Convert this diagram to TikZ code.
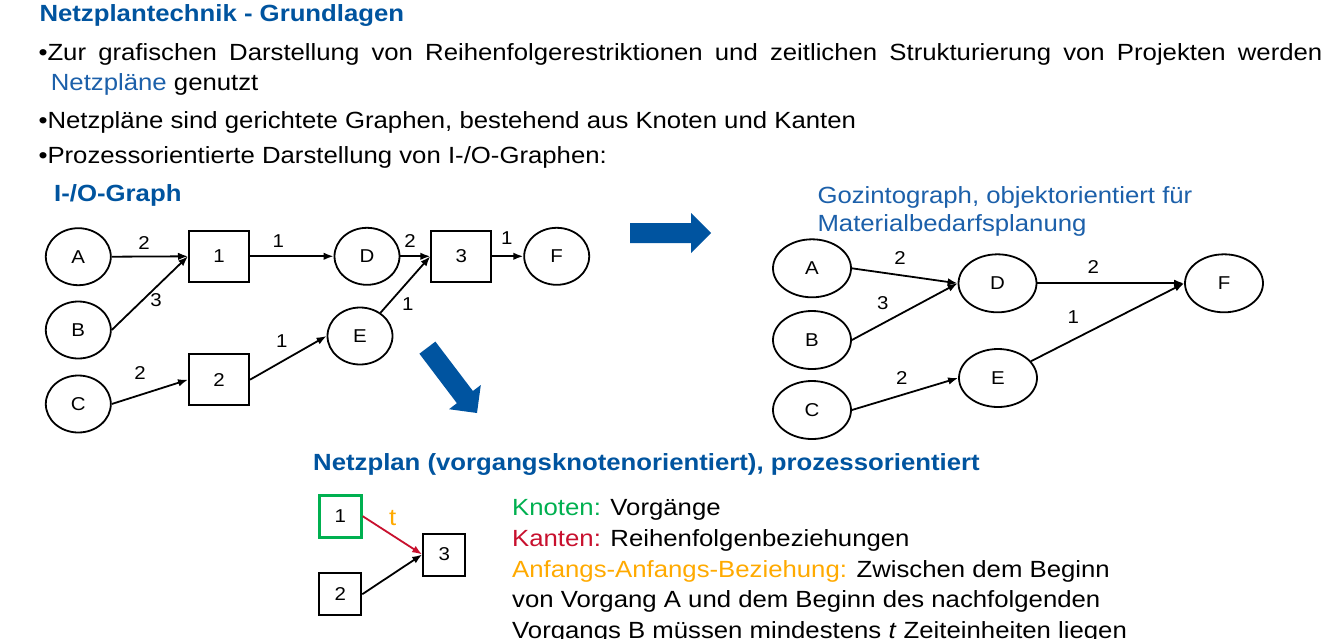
\documentclass[tikz,border=0pt]{standalone}
\usepackage{fontspec}
\setmainfont{Liberation Sans}[FakeStretch=1.1]
\usetikzlibrary{shapes.geometric,arrows.meta}
\definecolor{hblue}{RGB}{0,84,159}
\definecolor{tblue}{RGB}{28,96,170}
\definecolor{arrblue}{RGB}{0,84,160}
\definecolor{kgreen}{RGB}{0,176,80}
\definecolor{kred}{RGB}{200,16,46}
\definecolor{korange}{RGB}{255,170,0}
\newcommand{\bodyfs}{\fontsize{23.4}{28}\selectfont}
\newcommand{\lblfs}{\fontsize{18.6}{22}\selectfont}
\begin{document}
\begin{tikzpicture}[x=1pt,y=-1pt,
  txt/.style={anchor=base west,inner sep=0pt,font=\bodyfs},
  circ/.style={ellipse,draw,line width=1.8pt,minimum width=65pt,minimum height=57pt,inner sep=0pt,font=\lblfs},
  oval/.style={ellipse,draw,line width=1.8pt,minimum width=78pt,minimum height=58pt,inner sep=0pt,font=\lblfs},
  box/.style={rectangle,draw,line width=2pt,minimum width=60pt,minimum height=51pt,inner sep=0pt,font=\lblfs},
  sbox/.style={rectangle,draw,line width=2pt,minimum width=42pt,minimum height=42pt,inner sep=0pt,font=\lblfs},
  lbl/.style={inner sep=0pt,font=\lblfs},
  edge/.style={line width=1.8pt,-{Latex[length=10pt,width=7.5pt]}},
  bigarrow/.style={fill=arrblue,draw=none}]
\useasboundingbox (0,0) rectangle (1334,638);
\clip (0,0) rectangle (1334,638);
\fill[white] (0,0) rectangle (1334,638);

% ---------- top text
\node[txt,font=\bodyfs\bfseries,text=hblue] (title) at (39.3,21.7) {Netzplantechnik - Grundlagen};
\node[txt] (l1) at (38.3,60) {\makebox[1284pt][s]{•Zur grafischen Darstellung von Reihenfolgerestriktionen und zeitlichen Strukturierung von Projekten werden}};
\node[txt] (l2) at (50.7,90) {\textcolor{tblue}{Netzpläne} genutzt};
\node[txt] (l3) at (38.3,128.3) {•Netzpläne sind gerichtete Graphen, bestehend aus Knoten und Kanten};
\node[txt] (l4) at (38.3,163.3) {•Prozessorientierte Darstellung von I-/O-Graphen:};

% ---------- I/O graph
\node[txt,font=\bodyfs\bfseries,text=hblue] (iotitle) at (54,201.7) {I-/O-Graph};
\node[circ] (A) at (78.3,256.7) {A};
\node[circ] (B) at (78.3,330) {B};
\node[circ] (C) at (78.3,404) {C};
\node[box] (n1) at (219,256.3) {1};
\node[box] (n2) at (219,379.7) {2};
\node[circ] (D) at (367,256.3) {D};
\node[circ] (E) at (360,336) {E};
\node[box] (n3) at (461.3,256.3) {3};
\node[circ] (F) at (556.7,256.3) {F};
\draw[edge] (A.east) -- (n1.west);
\draw[edge] (B.east) -- (n1.west);
\draw[edge] (n1.east) -- (D.west);
\draw[edge] (D.east) -- (n3.west);
\draw[edge] (E) -- (n3.west);
\draw[edge] (n3.east) -- (F.west);
\draw[edge] (C.east) -- (n2.west);
\draw[edge] (n2.east) -- (E.west);
\node[lbl] (la1) at (144,243.3) {2};
\node[lbl] (la2) at (156,300) {3};
\node[lbl] (la3) at (278.3,240.7) {1};
\node[lbl] (la4) at (410,240.7) {2};
\node[lbl] (la5) at (407.7,304) {1};
\node[lbl] (la6) at (506.7,238.3) {1};
\node[lbl] (la7) at (140,373.3) {2};
\node[lbl] (la8) at (281.7,340.7) {1};

% ---------- big arrows
\fill[bigarrow] (630,223) -- (691,223) -- (691,213) -- (711,233) -- (691,253) -- (691,243) -- (630,243) -- cycle;
\fill[bigarrow] (435.4,341.6) -- (472.9,391.0) -- (480.8,385) -- (477,413) -- (449,409.2) -- (456.9,403.2) -- (419.4,353.7) -- cycle;

% ---------- Gozintograph
\node[txt,text=tblue] (gt1) at (817.3,203.3) {Gozintograph, objektorientiert für};
\node[txt,text=tblue] (gt2) at (817.3,231.5) {Materialbedarfsplanung};
\node[oval] (A2) at (812,268.3) {A};
\node[oval] (B2) at (812,340) {B};
\node[oval] (C2) at (812,410) {C};
\node[oval] (D2) at (997.5,283.3) {D};
\node[oval] (E2) at (998,378) {E};
\node[oval] (F2) at (1224,283.3) {F};
\draw[edge] (A2.east) -- (D2.west);
\draw[edge] (B2.east) -- (D2.west);
\draw[edge] (C2.east) -- (E2.west);
\draw[edge] (D2.east) -- (F2.west);
\draw[edge] (E2) -- (F2.west);
\node[lbl] (lb1) at (900,258) {2};
\node[lbl] (lb2) at (882.7,303.3) {3};
\node[lbl] (lb3) at (1093.3,266.7) {2};
\node[lbl] (lb4) at (1073.3,316.7) {1};
\node[lbl] (lb5) at (901.7,378.3) {2};

% ---------- Netzplan
\node[txt,font=\bodyfs\bfseries,text=hblue] (nptitle) at (313,470) {Netzplan (vorgangsknotenorientiert), prozessorientiert};
\node[sbox,draw=kgreen,line width=2.8pt] (m1) at (340.3,516.2) {1};
\node[sbox] (m3) at (444.2,554.5) {3};
\node[sbox] (m2) at (340.3,594.2) {2};
\draw[edge,draw=kred,fill=kred] (m1.east) -- (m3.west);
\draw[edge] (m2.east) -- (m3.west);
\node[inner sep=0pt,font=\bodyfs,text=korange] (tl) at (392.7,518.3) {t};
\node[txt] (b1) at (512,515.5) {\textcolor{kgreen}{Knoten:} Vorgänge};
\node[txt] (b2) at (512,546.5) {\textcolor{kred}{Kanten:} Reihenfolgenbeziehungen};
\node[txt] (b3) at (512,577) {\textcolor{korange}{Anfangs-Anfangs-Beziehung:} Zwischen dem Beginn};
\node[txt] (b4) at (512,607.5) {von Vorgang A und dem Beginn des nachfolgenden};
\node[txt] (b5) at (512,638) {Vorgangs B müssen mindestens \textit{t} Zeiteinheiten liegen};
\end{tikzpicture}
\end{document}
